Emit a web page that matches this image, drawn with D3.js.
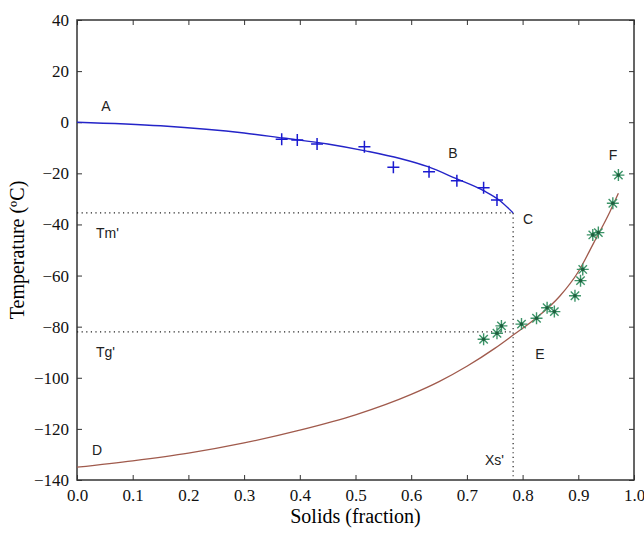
<!DOCTYPE html>
<html>
<head>
<meta charset="utf-8">
<script src="https://cdn.jsdelivr.net/npm/d3@7"></script>
<style>
  body { margin: 0; background: #fff; }
  svg { display: block; }
</style>
</head>
<body>
<svg id="chart" width="644" height="533"></svg>
<script>
// measured points, liquidus (+)
var liqX = [0.3675, 0.3955, 0.431, 0.516, 0.568, 0.632, 0.682, 0.730, 0.754];
var liqY = [-6.7, -7.0, -8.5, -9.6, -17.6, -19.4, -22.9, -25.6, -30.4];
// fitted liquidus curve A-B-C
var fitAX = [0, 0.15, 0.30, 0.37, 0.45, 0.52, 0.58, 0.63, 0.68, 0.73, 0.76, 0.783];
var fitAY = [0, -1.4, -4.2, -6.2, -8.5, -11.3, -14.2, -17.4, -22.0, -26.8, -30.8, -35.5];
// measured glass transition points (*)
var glassX = [0.730, 0.754, 0.762, 0.798, 0.825, 0.844, 0.857, 0.894, 0.904, 0.908, 0.926, 0.936, 0.962, 0.972];
var glassY = [-84.9, -82.6, -79.7, -79, -76.7, -72.6, -74.1, -67.9, -62, -57.6, -44.1, -43.2, -31.7, -20.7];
// fitted glass transition curve D-E-F
var fitDX = [0, 0.1, 0.2, 0.3, 0.4, 0.5, 0.6, 0.65, 0.7, 0.75, 0.783, 0.825, 0.867, 0.9, 0.927, 0.957, 0.972];
var fitDY = [-135, -132.5, -129.5, -125.5, -120.5, -114.5, -106.5, -101.5, -95.5, -88.5, -83.3, -76.5, -68, -58.5, -47.5, -34.9, -27.8];
// special values
var Tm = -35.5, Tg = -82, Xs = 0.783;
var xTicks = d3.range(0, 1.01, 0.1);
var yTicks = d3.range(-140, 41, 20);

var svg = d3.select("#chart");
var pL = 77, pR = 634, pT = 20, pB = 480;

var x = d3.scaleLinear().domain([0, 1]).range([pL, pR]);
var y = d3.scaleLinear().domain([-140, 40]).range([pB, pT]);

var serif = "'Liberation Serif', 'Times New Roman', serif";
var sans = "'Liberation Sans', Arial, sans-serif";

// axes with inward ticks on all sides
function styleAxis(g) {
  g.select(".domain").remove();
  g.selectAll(".tick line").attr("stroke", "#333").attr("stroke-width", 1);
  g.selectAll(".tick text").attr("font-family", serif).attr("font-size", "17px").attr("fill", "#111");
}
svg.append("g").attr("transform", "translate(0," + pB + ")")
  .call(d3.axisBottom(x).tickValues(xTicks).tickFormat(d3.format(".1f")).tickSizeInner(-5).tickPadding(9))
  .call(styleAxis);
svg.append("g").attr("transform", "translate(0," + pT + ")")
  .call(d3.axisTop(x).tickValues(xTicks).tickFormat("").tickSizeInner(-5))
  .call(styleAxis);
svg.append("g").attr("transform", "translate(" + pL + ",0)")
  .call(d3.axisLeft(y).tickValues(yTicks).tickFormat(d3.format("d")).tickSizeInner(-5).tickPadding(8))
  .call(styleAxis);
svg.append("g").attr("transform", "translate(" + pR + ",0)")
  .call(d3.axisRight(y).tickValues(yTicks).tickFormat("").tickSizeInner(-5))
  .call(styleAxis);

svg.append("rect")
  .attr("x", pL).attr("y", pT)
  .attr("width", pR - pL).attr("height", pB - pT)
  .attr("fill", "none").attr("stroke", "#333").attr("stroke-width", 1.5);

// dotted guides Tm', Tg', Xs'
var dotDash = "1.2,3.4";
svg.append("line").attr("x1", x(0)).attr("x2", x(Xs)).attr("y1", y(Tm)).attr("y2", y(Tm))
  .attr("stroke", "#222").attr("stroke-width", 1.2).attr("stroke-dasharray", dotDash);
svg.append("line").attr("x1", x(0)).attr("x2", x(Xs)).attr("y1", y(Tg)).attr("y2", y(Tg))
  .attr("stroke", "#222").attr("stroke-width", 1.2).attr("stroke-dasharray", dotDash);
svg.append("line").attr("x1", x(Xs)).attr("x2", x(Xs)).attr("y1", y(Tm)).attr("y2", y(-140))
  .attr("stroke", "#222").attr("stroke-width", 1.2).attr("stroke-dasharray", dotDash);

// fitted curves
var line = d3.line().x(function(d) { return x(d[0]); }).y(function(d) { return y(d[1]); })
  .curve(d3.curveMonotoneX);

svg.append("path").datum(d3.zip(fitDX, fitDY))
  .attr("d", line).attr("fill", "none").attr("stroke", "#a05a4c").attr("stroke-width", 1.3);
svg.append("path").datum(d3.zip(fitAX, fitAY))
  .attr("d", line).attr("fill", "none").attr("stroke", "#2424c8").attr("stroke-width", 1.4);

// plus markers
var s = 6;
svg.selectAll(".plus").data(d3.zip(liqX, liqY)).enter().append("path")
  .attr("class", "plus")
  .attr("transform", function(d) { return "translate(" + x(d[0]) + "," + y(d[1]) + ")"; })
  .attr("d", "M" + (-s) + ",0H" + s + "M0," + (-s) + "V" + s)
  .attr("stroke", "#1a1ad0").attr("stroke-width", 1.5).attr("fill", "none");

// asterisk markers
var a = 6, b = 4.2;
svg.selectAll(".star").data(d3.zip(glassX, glassY)).enter().append("path")
  .attr("class", "star")
  .attr("transform", function(d) { return "translate(" + x(d[0]) + "," + y(d[1]) + ")"; })
  .attr("d", "M" + (-a) + ",0H" + a + "M0," + (-a) + "V" + a +
             "M" + (-b) + "," + (-b) + "L" + b + "," + b + "M" + (-b) + "," + b + "L" + b + "," + (-b))
  .attr("stroke", "#3c9468").attr("stroke-width", 1.4).attr("fill", "none");
svg.selectAll(".starc").data(d3.zip(glassX, glassY)).enter().append("circle")
  .attr("cx", function(d) { return x(d[0]); }).attr("cy", function(d) { return y(d[1]); })
  .attr("r", 1.8).attr("fill", "#1f5e3e");

// point labels
var labels = [
  ["A", 106, 106, "middle"], ["B", 453, 153, "middle"], ["C", 528, 219, "middle"],
  ["D", 97, 450, "middle"], ["E", 540, 354, "middle"], ["F", 613, 155, "middle"],
  ["Tm'", 96, 233, "start"], ["Tg'", 96, 352, "start"], ["Xs'", 504, 460, "end"]
];
svg.selectAll(".lbl").data(labels).enter().append("text")
  .attr("x", function(d) { return d[1]; }).attr("y", function(d) { return d[2]; })
  .attr("dy", "0.35em").attr("text-anchor", function(d) { return d[3]; })
  .attr("font-family", sans).attr("font-size", "14px").attr("fill", "#222")
  .text(function(d) { return d[0]; });

// axis titles
svg.append("text").attr("x", (pL + pR) / 2).attr("y", 523)
  .attr("text-anchor", "middle").attr("font-family", serif).attr("font-size", "20px")
  .text("Solids (fraction)");
svg.append("text").attr("transform", "translate(24," + ((pT + pB) / 2) + ") rotate(-90)")
  .attr("text-anchor", "middle").attr("font-family", serif).attr("font-size", "20px")
  .text("Temperature (ºC)");
</script>
</body>
</html>
